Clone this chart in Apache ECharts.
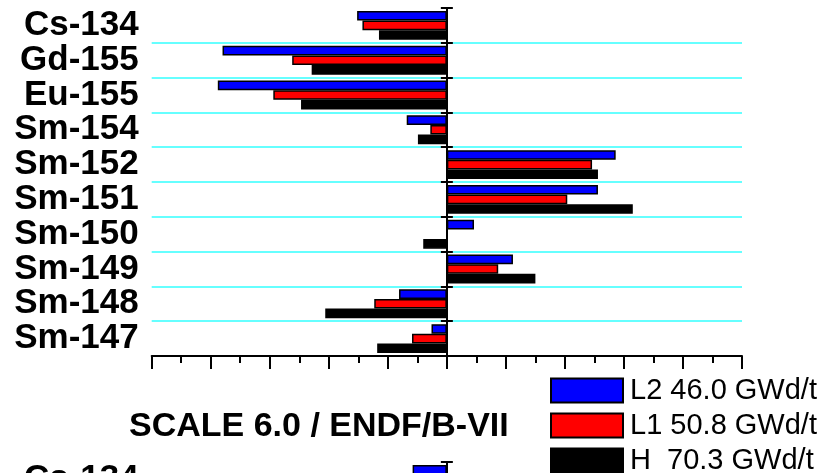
<!DOCTYPE html>
<html>
<head>
<meta charset="utf-8">
<script src="https://cdn.jsdelivr.net/npm/echarts@6/dist/echarts.min.js"></script>
<style>
  html, body { margin: 0; padding: 0; background: #fff; }
  #chart { width: 823px; height: 473px; }
</style>
</head>
<body>
<div id="chart"></div>
<script>
// * Nuclides, top to bottom
const nuclides = ["Cs-134", "Gd-155", "Eu-155", "Sm-154", "Sm-152", "Sm-151", "Sm-150", "Sm-149", "Sm-148", "Sm-147"];

// * Upper panel values (one per nuclide)
const l2Values = [-15.2, -38.0, -38.8, -6.8, 28.6, 25.6, 4.6, 11.2, -8.1, -2.6];
const l1Values = [-14.3, -26.2, -29.4, -2.8, 24.6, 20.4, 0, 8.7, -12.3, -5.9];
const hValues = [-11.5, -22.9, -24.7, -4.9, 25.6, 31.5, -4.0, 15.0, -20.6, -11.8];

// * Lower panel, only its first bar shows inside the picture
const l2LowerValues = [-5.8, null, null, null, null, null, null, null, null, null];
const emptyValues = [null, null, null, null, null, null, null, null, null, null];

const seriesNames = ["L2 46.0 GWd/t", "L1 50.8 GWd/t", "H  70.3 GWd/t"];
const seriesColors = ["#0000ff", "#ff0000", "#000000"];
const titleText = "SCALE 6.0 / ENDF/B-VII";

const fontFamily = "'Liberation Sans', Arial, sans-serif";
const panelHeight = 348;

const myChart = echarts.init(document.getElementById("chart"), null, { renderer: "canvas" });

// ? Value axis shared by both panels
function valueAxis(gridIndex, visible) {
  return {
    type: "value",
    gridIndex,
    min: -50,
    max: 50,
    interval: 10,
    position: "bottom",
    axisLine: { show: visible, lineStyle: { color: "#000", width: 2 } },
    axisTick: { show: visible, length: 13, lineStyle: { color: "#000", width: 2 } },
    minorTick: { show: visible, splitNumber: 2, length: 7, lineStyle: { color: "#000", width: 2 } },
    axisLabel: { show: false },
    splitLine: { show: false },
  };
}

// ? Three stacked category axes per panel: labels at left, zero line with ticks both sides
function categoryAxes(gridIndex, showGrid) {
  const base = {
    type: "category",
    gridIndex,
    data: nuclides,
    inverse: true,
    position: "left",
  };
  return [
    {
      ...base,
      axisLine: { show: false },
      axisTick: { show: false },
      axisLabel: {
        interval: 0,
        margin: 13,
        color: "#000",
        fontFamily,
        fontWeight: "bold",
        fontSize: 35,
      },
      splitLine: {
        show: showGrid,
        // * skip the top boundary, no line there
        interval: (index) => index !== 0,
        lineStyle: { color: "#33ffff", width: 1.5 },
      },
    },
    {
      ...base,
      axisLine: { show: true, onZero: true, onZeroAxisIndex: gridIndex, lineStyle: { color: "#000", width: 2 } },
      axisTick: { show: true, length: 6, lineStyle: { color: "#000", width: 2 } },
      axisLabel: { show: false },
      splitLine: { show: false },
    },
    {
      ...base,
      axisLine: { show: false, onZero: true, onZeroAxisIndex: gridIndex },
      axisTick: { show: true, inside: true, length: 6, lineStyle: { color: "#000", width: 2 } },
      axisLabel: { show: false },
      splitLine: { show: false },
    },
  ];
}

function barSeries(name, color, data, xAxisIndex, yAxisIndex) {
  return {
    name,
    type: "bar",
    xAxisIndex,
    yAxisIndex,
    data,
    barGap: "0%",
    barCategoryGap: "17%",
    itemStyle: { color, borderColor: "#000", borderWidth: 1.5 },
    animation: false,
  };
}

const option = {
  backgroundColor: "#fff",
  animation: false,
  title: {
    text: titleText,
    left: 124,
    top: 405,
    textStyle: {
      color: "#000",
      fontFamily,
      fontWeight: "bold",
      fontSize: 34,
    },
  },
  legend: {
    data: seriesNames,
    orient: "vertical",
    left: 550,
    top: 376,
    width: 273,
    height: 120,
    padding: 0,
    itemWidth: 72,
    itemHeight: 24,
    itemGap: 6,
    icon: "rect",
    textStyle: {
      color: "#000",
      fontFamily,
      fontSize: 29,
      lineHeight: 24,
      padding: [0, 0, 0, 2],
    },
  },
  grid: [
    { left: 151.7, right: 81, top: 8, height: panelHeight, outerBoundsMode: "none" },
    { left: 151.7, right: 81, top: 462, height: panelHeight, outerBoundsMode: "none" },
  ],
  xAxis: [valueAxis(0, true), valueAxis(1, false)],
  yAxis: [...categoryAxes(0, true), ...categoryAxes(1, false)],
  series: [
    barSeries(seriesNames[0], seriesColors[0], l2Values, 0, 0),
    barSeries(seriesNames[1], seriesColors[1], l1Values, 0, 0),
    barSeries(seriesNames[2], seriesColors[2], hValues, 0, 0),
    barSeries(seriesNames[0], seriesColors[0], l2LowerValues, 1, 3),
    barSeries(seriesNames[1], seriesColors[1], emptyValues, 1, 3),
    barSeries(seriesNames[2], seriesColors[2], emptyValues, 1, 3),
  ],
};

myChart.setOption(option);
</script>
</body>
</html>
